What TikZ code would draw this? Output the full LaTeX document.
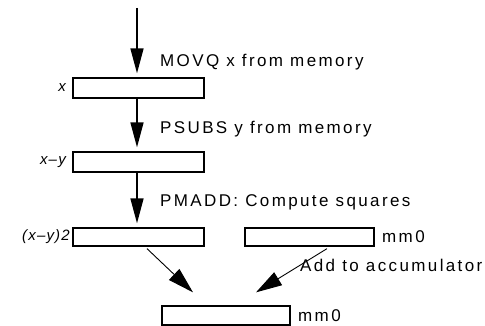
\documentclass[tikz,border=0pt]{standalone}
\usepackage{fontspec}
\setmainfont{Liberation Sans}
\usetikzlibrary{arrows.meta,calc}
\tikzset{
  reg/.style={draw, line width=1.3pt, minimum width=131pt, minimum height=20pt, inner sep=0pt},
  lbl/.style={anchor=west, inner sep=0pt, font=\addfontfeature{LetterSpace=14}\fontsize{17}{19}\selectfont},
  vlbl/.style={anchor=east, inner sep=0pt, font=\itshape\addfontfeature{LetterSpace=8}\fontsize{15}{17}\selectfont},
  flow/.style={line width=1.5pt, -{Triangle[length=25pt,width=13pt]}, shorten >=4pt},
  diag/.style={line width=0.9pt, -{Triangle[length=26pt,width=15pt]}}
}
\begin{document}
\begin{tikzpicture}[x=1pt,y=1pt]
\useasboundingbox (0,0) rectangle (485,326);
\coordinate (top) at (137,318);
\node[reg] (bx) at (138.5,238) {};
\node[reg] (bxy) at (138.5,164) {};
\node[reg, minimum height=18pt] (bsq) at (138.5,89) {};
\node[reg, minimum height=18pt, minimum width=129pt] (bacc) at (309.5,89) {};
\node[reg, minimum height=19pt, minimum width=128pt] (bres) at (226,10.5) {};
\draw[flow] (top) -- (top |- bx.north);
\draw[flow] (bx.south -| top) -- (top |- bxy.north);
\draw[flow] (bxy.south -| top) -- (top |- bsq.north);
\coordinate (ls) at ($(bsq.south)+(8.5,-2)$);
\coordinate (le) at ($(bres.north)+(-33,13)$);
\coordinate (rs) at ($(bacc.south)+(17.5,-2)$);
\coordinate (re) at ($(bres.north)+(30,13)$);
\draw[diag] (ls) -- (le);
\draw[diag] (rs) -- (re);
\node[lbl] (t1) at (160,264) {MOVQ x from memory};
\node[lbl] (t2) at (160,197) {PSUBS y from memory};
\node[lbl] (t3) at (160,124) {PMADD: Compute squares};
\node[lbl] (t4) at (300,61) {Add to accumulator};
\node[lbl] (m1) at (382,89) {mm0};
\node[lbl] (m2) at (298,10) {mm0};
\node[vlbl] (v1) at (66,238) {x};
\node[vlbl] (v2) at (66,164) {x–y};
\node[vlbl] (v3) at (70,89) {(x–y)2};
\end{tikzpicture}
\end{document}
